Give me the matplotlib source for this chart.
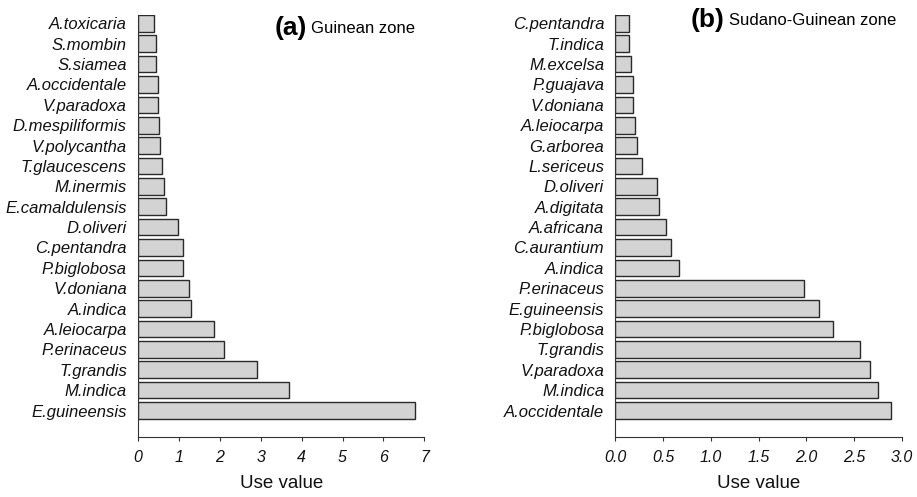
import matplotlib
matplotlib.use("Agg")
import matplotlib.pyplot as plt

plt.rcParams['font.family'] = ['Liberation Sans', 'DejaVu Sans']

# Guinean zone (top to bottom as drawn)
guinean_species = ["A.toxicaria", "S.mombin", "S.siamea", "A.occidentale", "V.paradoxa",
                   "D.mespiliformis", "V.polycantha", "T.glaucescens", "M.inermis",
                   "E.camaldulensis", "D.oliveri", "C.pentandra", "P.biglobosa",
                   "V.doniana", "A.indica", "A.leiocarpa", "P.erinaceus", "T.grandis",
                   "M.indica", "E.guineensis"]
guinean_uv = [0.39, 0.43, 0.43, 0.49, 0.49, 0.52, 0.55, 0.59, 0.64, 0.69,
              0.98, 1.10, 1.10, 1.25, 1.30, 1.87, 2.10, 2.92, 3.69, 6.78]

# Sudano-Guinean zone (top to bottom as drawn)
sudano_species = ["C.pentandra", "T.indica", "M.excelsa", "P.guajava", "V.doniana",
                  "A.leiocarpa", "G.arborea", "L.sericeus", "D.oliveri", "A.digitata",
                  "A.africana", "C.aurantium", "A.indica", "P.erinaceus", "E.guineensis",
                  "P.biglobosa", "T.grandis", "V.paradoxa", "M.indica", "A.occidentale"]
sudano_uv = [0.14, 0.14, 0.16, 0.18, 0.19, 0.21, 0.23, 0.28, 0.44, 0.46,
             0.53, 0.58, 0.67, 1.97, 2.13, 2.28, 2.56, 2.66, 2.75, 2.89]

guinean_ticks = [0, 1, 2, 3, 4, 5, 6, 7]
sudano_ticks = [0.0, 0.5, 1.0, 1.5, 2.0, 2.5, 3.0]

W, H = 917, 497
fig = plt.figure(figsize=(W / 100, H / 100), dpi=100)

def panel(left_px, right_px, names, vals, ticks, fmt, tag, title, tag_x, title_x, title_y):
    top_px, bot_px = 15, 437
    ax = fig.add_axes([left_px / W, 1 - bot_px / H, (right_px - left_px) / W, (bot_px - top_px) / H])
    n = len(names)
    pos = list(range(n - 1, -1, -1))
    ax.barh(pos, vals, height=0.82, color="#d3d3d3", edgecolor="#2a2a2a", linewidth=1.0)
    ax.set_ylim(-1.3, n - 1 + 0.41)
    ax.set_xlim(ticks[0], ticks[-1])
    ax.set_yticks(pos)
    ax.set_yticklabels(names, fontsize=12, style="italic", color="#111111")
    ax.set_xticks(ticks)
    ax.set_xticklabels([fmt.format(t) for t in ticks], fontsize=11.5, style="italic", color="#111111")
    ax.tick_params(axis="y", length=0, pad=8)
    ax.tick_params(axis="x", length=3, pad=6.5, color="#333333")
    for s in ("top", "right"):
        ax.spines[s].set_visible(False)
    ax.spines["left"].set_color("#333333")
    ax.spines["bottom"].set_color("#333333")
    ax.spines["bottom"].set_bounds(ticks[0], ticks[-1])
    ax.set_xlabel("Use value", fontsize=13.5, labelpad=7, color="#111111")
    ax.text(tag_x, title_y, tag, transform=ax.transAxes, fontsize=19, fontweight="bold",
            ha="left", va="center")
    ax.text(title_x, title_y, title, transform=ax.transAxes, fontsize=12,
            ha="left", va="center")
    return ax

panel(138, 424.3, guinean_species, guinean_uv, guinean_ticks, "{:d}",
      "(a)", "Guinean zone", 0.478, 0.604, 0.969)
panel(615.3, 902, sudano_species, sudano_uv, sudano_ticks, "{:.1f}",
      "(b)", "Sudano-Guinean zone", 0.263, 0.397, 0.988)

fig.savefig("out.png", dpi=100)
